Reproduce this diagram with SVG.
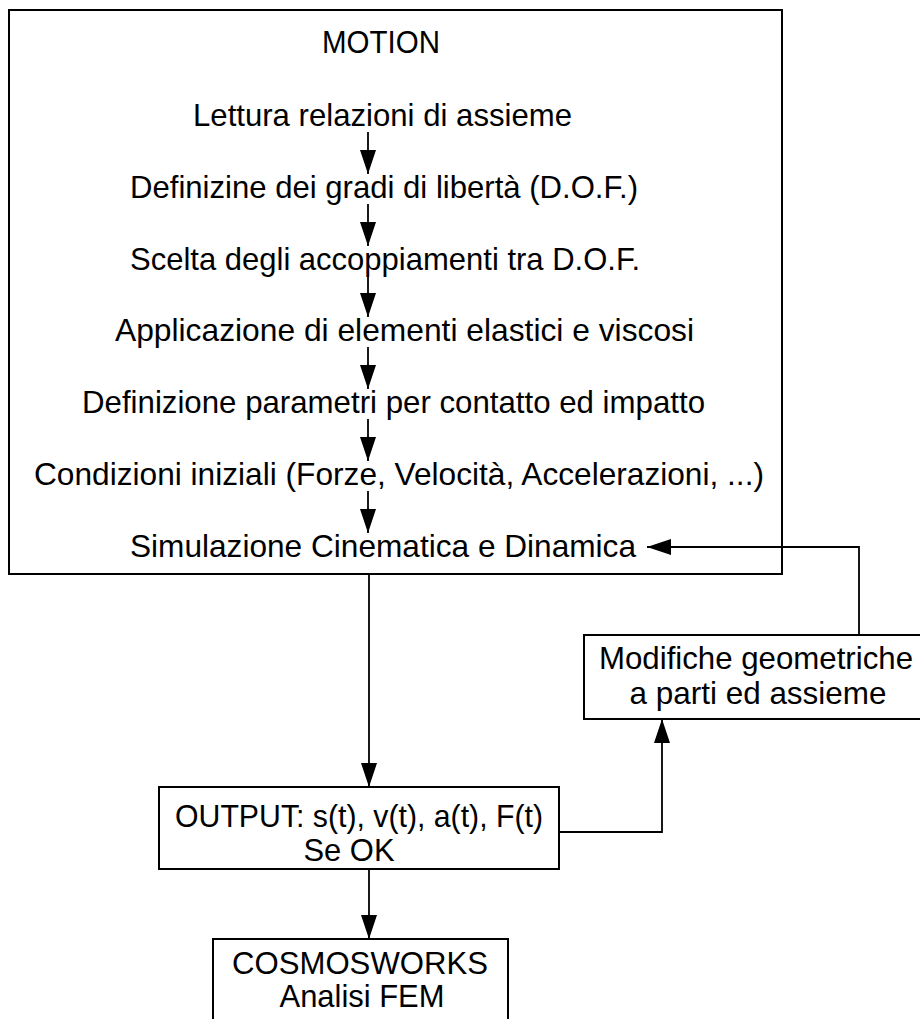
<svg xmlns="http://www.w3.org/2000/svg" width="920" height="1019" viewBox="0 0 920 1019">
<style>
  .box { fill: #ffffff; stroke: #000000; stroke-width: 2; }
  .t { font-family: "Liberation Sans", Arial, sans-serif; font-size: 32px; fill: #000000; }
  .c { text-anchor: middle; }
  .ln { fill: none; stroke: #000000; stroke-width: 1.8; }
</style>
<defs>
  <marker id="ah" viewBox="0 0 24 16" refX="24" refY="8" markerWidth="24" markerHeight="16" markerUnits="userSpaceOnUse" orient="auto">
    <path d="M0,0 L24,8 L0,16 Z" fill="#000000"/>
  </marker>
</defs>
<rect width="920" height="1019" fill="#ffffff"/>

<g id="motion">
  <rect class="box" x="9" y="10" width="773" height="564"/>
  <text class="t" x="322" y="53" textLength="118" lengthAdjust="spacingAndGlyphs">MOTION</text>
  <text class="t" x="193" y="126" textLength="379" lengthAdjust="spacingAndGlyphs">Lettura relazioni di assieme</text>
  <text class="t" x="130" y="198" textLength="508" lengthAdjust="spacingAndGlyphs">Definizine dei gradi di libertà (D.O.F.)</text>
  <text class="t" x="130" y="270" textLength="510" lengthAdjust="spacingAndGlyphs">Scelta degli accoppiamenti tra D.O.F.</text>
  <text class="t" x="115" y="341" textLength="579" lengthAdjust="spacingAndGlyphs">Applicazione di elementi elastici e  viscosi</text>
  <text class="t" x="82" y="413" textLength="623" lengthAdjust="spacingAndGlyphs">Definizione parametri per contatto ed impatto</text>
  <text class="t" x="34" y="485" textLength="730" lengthAdjust="spacingAndGlyphs">Condizioni iniziali (Forze, Velocità, Accelerazioni, ...)</text>
  <text class="t" x="130" y="557" textLength="506" lengthAdjust="spacingAndGlyphs">Simulazione Cinematica e Dinamica</text>
</g>

<g id="output">
  <rect class="box" x="159" y="787" width="400" height="82"/>
  <text class="t c" x="359" y="827" textLength="368" lengthAdjust="spacingAndGlyphs">OUTPUT: s(t), v(t), a(t), F(t)</text>
  <text class="t c" x="349" y="861" textLength="91" lengthAdjust="spacingAndGlyphs">Se OK</text>
</g>

<g id="modifiche">
  <rect class="box" x="584" y="635" width="344" height="84"/>
  <text class="t c" x="756" y="669" textLength="314" lengthAdjust="spacingAndGlyphs">Modifiche geometriche</text>
  <text class="t c" x="758" y="704" textLength="257" lengthAdjust="spacingAndGlyphs">a parti ed assieme</text>
</g>

<g id="cosmosworks">
  <rect class="box" x="213" y="939" width="295" height="90"/>
  <text class="t c" x="360" y="974" textLength="256" lengthAdjust="spacingAndGlyphs">COSMOSWORKS</text>
  <text class="t c" x="362" y="1007" textLength="165" lengthAdjust="spacingAndGlyphs">Analisi FEM</text>
</g>

<g id="connectors">
  <path class="ln" d="M368,132 V174" marker-end="url(#ah)"/>
  <path class="ln" d="M368,204 V246" marker-end="url(#ah)"/>
  <path class="ln" d="M368,276 V317" marker-end="url(#ah)"/>
  <path class="ln" d="M368,347 V389" marker-end="url(#ah)"/>
  <path class="ln" d="M368,419 V461" marker-end="url(#ah)"/>
  <path class="ln" d="M368,491 V533" marker-end="url(#ah)"/>
  <path class="ln" d="M369,574 V787" marker-end="url(#ah)"/>
  <path class="ln" d="M369,869 V939" marker-end="url(#ah)"/>
  <path class="ln" d="M559,832 H662 V719" marker-end="url(#ah)"/>
  <path class="ln" d="M859,635 V547 H647" marker-end="url(#ah)"/>
</g>
</svg>
